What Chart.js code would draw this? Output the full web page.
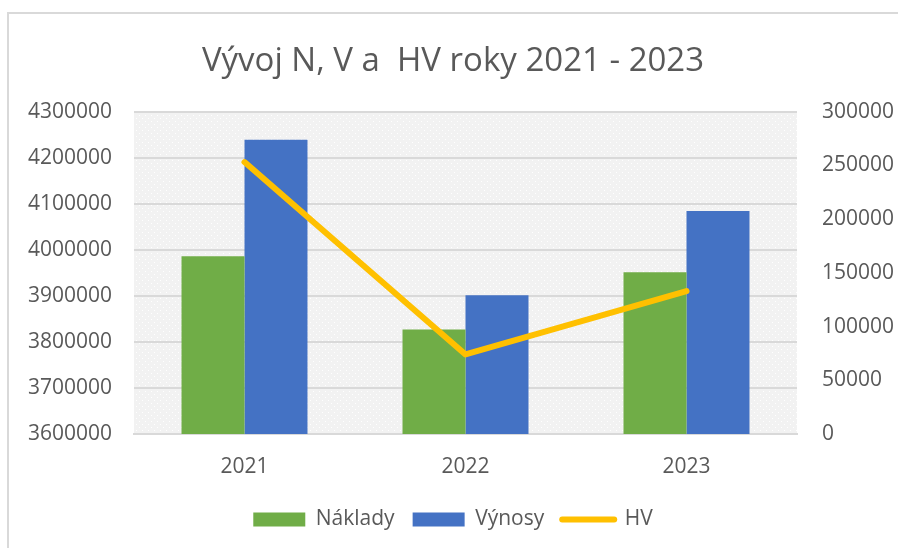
<!DOCTYPE html>
<html>
<head>
<meta charset="utf-8">
<script src="https://cdn.jsdelivr.net/npm/chart.js@4/dist/chart.umd.min.js"></script>
<style>
  html, body { margin: 0; padding: 0; background: #ffffff; }
  #wrap { width: 898px; height: 548px; position: relative; }
</style>
</head>
<body>
<div id="wrap"><canvas id="c" width="898" height="548"></canvas></div>
<script>
const categories = ["2021", "2022", "2023"];
const naklady = [3986000, 3827000, 3951000];
const vynosy = [4239000, 3901000, 4084000];
const hv = [253000, 74000, 133000];
const leftTicks = [3600000, 3700000, 3800000, 3900000, 4000000, 4100000, 4200000, 4300000];
const rightTicks = [0, 50000, 100000, 150000, 200000, 250000, 300000];

const FONT = "'Open Sans', 'Liberation Sans', sans-serif";
const TXT = '#595959';

function makePattern(ctx) {
  const t = document.createElement('canvas');
  t.width = 6; t.height = 6;
  const g = t.getContext('2d');
  g.fillStyle = '#f2f2f2';
  g.fillRect(0, 0, 6, 6);
  g.fillStyle = '#ffffff';
  g.fillRect(1, 1, 1, 1);
  g.fillRect(4, 4, 1, 1);
  return ctx.createPattern(t, 'repeat');
}

const bgPlugin = {
  id: 'bg',
  beforeDraw(chart) {
    const ctx = chart.ctx;
    const a = chart.chartArea;
    ctx.save();
    ctx.strokeStyle = '#d9d9d9';
    ctx.lineWidth = 2;
    ctx.strokeRect(8, 13, 1000, 1000);
    ctx.fillStyle = makePattern(ctx);
    ctx.fillRect(a.left, a.top, a.right - a.left, a.bottom - a.top);
    ctx.restore();
  }
};

new Chart(document.getElementById('c'), {
  type: 'bar',
  data: {
    labels: categories,
    datasets: [
      { label: 'Náklady', data: naklady, backgroundColor: '#70ad47', yAxisID: 'y', order: 1,
        categoryPercentage: 0.57, barPercentage: 1.0, borderWidth: 0 },
      { label: 'Výnosy', data: vynosy, backgroundColor: '#4472c4', yAxisID: 'y', order: 1,
        categoryPercentage: 0.57, barPercentage: 1.0, borderWidth: 0 },
      { type: 'line', label: 'HV', data: hv, borderColor: '#ffc000', backgroundColor: '#ffc000',
        borderWidth: 6, pointRadius: 0, pointHoverRadius: 0, yAxisID: 'y1', order: 0,
        borderCapStyle: 'round', borderJoinStyle: 'round', tension: 0 }
    ]
  },
  options: {
    responsive: false,
    animation: false,
    devicePixelRatio: 1,
    layout: { padding: { left: 8, right: 0, top: 0, bottom: 8 } },
    plugins: {
      tooltip: { enabled: false },
      title: {
        display: true,
        text: 'Vývoj N, V a  HV roky 2021 - 2023',
        color: TXT,
        font: { family: FONT, size: 33, weight: 'normal' },
        padding: { top: 42, bottom: 30 }
      },
      legend: {
        position: 'bottom',
        labels: {
          color: TXT,
          font: { family: FONT, size: 21 },
          usePointStyle: true,
          pointStyleWidth: 52,
          boxHeight: 14,
          padding: 18,
          generateLabels(chart) {
            return chart.data.datasets.map((ds, i) => {
              const isLine = ds.type === 'line';
              return {
                text: ds.label,
                fillStyle: isLine ? 'transparent' : ds.backgroundColor,
                strokeStyle: isLine ? ds.borderColor : ds.backgroundColor,
                lineWidth: isLine ? 6 : 0,
                lineCap: 'round',
                pointStyle: isLine ? 'line' : 'rect',
                fontColor: TXT,
                hidden: false,
                datasetIndex: i
              };
            });
          }
        }
      }
    },
    scales: {
      x: {
        grid: { display: false, drawTicks: false },
        border: { display: true, color: '#d9d9d9', width: 2 },
        ticks: { color: TXT, font: { family: FONT, size: 21 }, padding: 20 },
        afterFit(s) { s.height = 57; }
      },
      y: {
        position: 'left',
        min: 3600000, max: 4300000,
        afterBuildTicks(s) { s.ticks = leftTicks.map(v => ({ value: v })); },
        grid: { color: '#d9d9d9', lineWidth: 2, drawTicks: false },
        border: { display: false },
        ticks: { color: TXT, font: { family: FONT, size: 21 }, padding: 22,
                 callback: v => String(v) },
        afterFit(s) { s.width = 126; }
      },
      y1: {
        position: 'right',
        min: 0, max: 300000,
        afterBuildTicks(s) { s.ticks = rightTicks.map(v => ({ value: v })); },
        grid: { display: false, drawTicks: false },
        border: { display: false },
        ticks: { color: TXT, font: { family: FONT, size: 21 }, padding: 25,
                 callback: v => String(v) },
        afterFit(s) { s.width = 101; }
      }
    }
  },
  plugins: [bgPlugin]
});
</script>
</body>
</html>
